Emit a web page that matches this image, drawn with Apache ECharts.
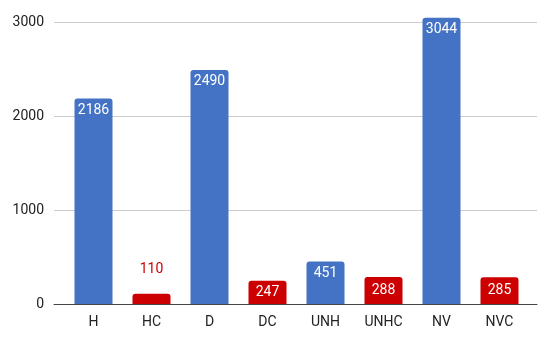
<!DOCTYPE html>
<html>
<head>
<meta charset="utf-8">
<script src="https://cdn.jsdelivr.net/npm/echarts@6/dist/echarts.min.js"></script>
<style>
  html, body { margin: 0; padding: 0; background: #fff; }
  #main { width: 550px; height: 338px; }
</style>
</head>
<body>
<div id="main"></div>
<script>
// categories and counts
const categories = ["H", "HC", "D", "DC", "UNH", "UNHC", "NV", "NVC"];
const counts = [2186, 110, 2490, 247, 451, 288, 3044, 285];
const yTicks = [0, 1000, 2000, 3000];

const BLUE = "#4472c4";
const RED = "#cc0000";

var myChart = echarts.init(document.getElementById("main"));

// "C" categories are red, the others blue
function barColor(name) {
  return name.endsWith("C") ? RED : BLUE;
}

// label placement depends on how tall the bar is
function labelFor(name, v) {
  if (v < 200) {
    return { show: true, position: "top", distance: 17, color: RED };
  }
  if (v < 300) {
    return { show: true, position: "inside", color: "#fff" };
  }
  return { show: true, position: "insideTop", distance: 5, color: "#fff" };
}

var barData = counts.map(function (v, i) {
  return {
    value: v,
    itemStyle: { color: barColor(categories[i]) },
    label: labelFor(categories[i], v),
  };
});

var option = {
  animation: false,
  textStyle: { fontFamily: "Roboto" },
  grid: [
    // wide grid: gridlines, y labels and the baseline
    { left: 54, right: 13, top: 22, bottom: 34 },
    // narrower grid holding the bars and category labels
    { left: 64.5, right: 21.5, top: 22, bottom: 34 },
  ],
  xAxis: [
    {
      gridIndex: 0,
      type: "category",
      data: categories,
      axisTick: { show: false },
      axisLabel: { show: false },
      axisLine: { show: true, lineStyle: { color: "#444", width: 1 } },
    },
    {
      gridIndex: 1,
      type: "category",
      data: categories,
      axisTick: { show: false },
      axisLine: { show: false },
      axisLabel: { color: "#222", fontSize: 14, margin: 11 },
    },
  ],
  yAxis: [
    {
      gridIndex: 0,
      type: "value",
      min: yTicks[0],
      max: yTicks[yTicks.length - 1],
      interval: 1000,
      axisLine: { show: false },
      axisTick: { show: false },
      axisLabel: {
        color: "#222",
        fontSize: 14,
        margin: 10,
        formatter: function (v) { return String(v); },
      },
      splitLine: { lineStyle: { color: "#cccccc" } },
    },
    {
      gridIndex: 1,
      type: "value",
      min: yTicks[0],
      max: yTicks[yTicks.length - 1],
      interval: 1000,
      show: false,
      splitLine: { show: false },
    },
  ],
  series: [
    {
      type: "bar",
      xAxisIndex: 1,
      yAxisIndex: 1,
      barWidth: 38,
      clip: false,
      z: 3,
      itemStyle: { borderRadius: [3, 3, 0, 0] },
      label: { fontSize: 14, fontFamily: "Roboto" },
      data: barData,
    },
  ],
};

option && myChart.setOption(option);
</script>
</body>
</html>
